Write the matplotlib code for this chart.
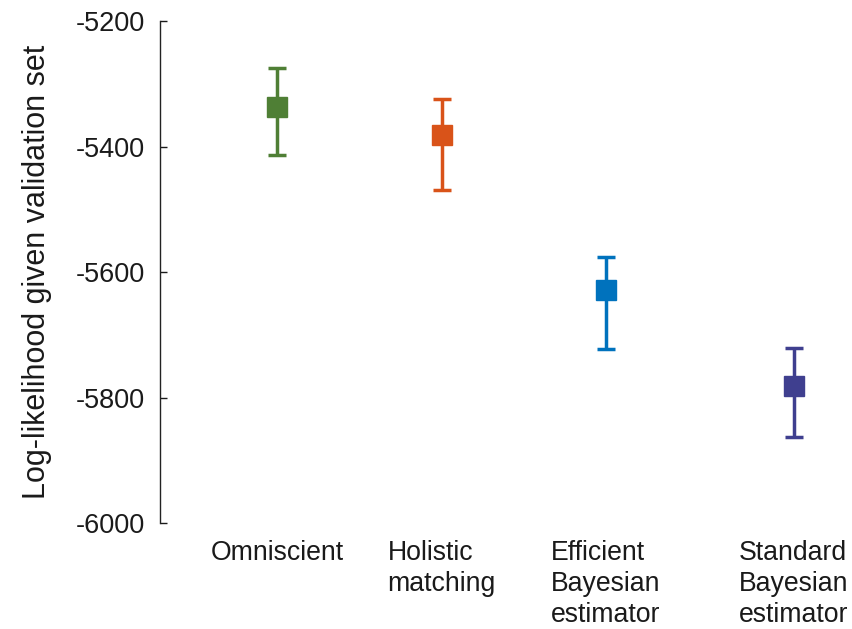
import matplotlib.pyplot as plt

# data
models = ['Omniscient', 'Holistic\nmatching', 'Efficient\nBayesian\nestimator', 'Standard\nBayesian\nestimator']
loglik = [-5337, -5382, -5629, -5782]
err_low = [-5413, -5469, -5723, -5863]
err_high = [-5275, -5324, -5576, -5721]
colors = ['#4f7f35', '#d95319', '#0072bd', '#3f3f8f']

# horizontal placement of each model
xpos = [1, 2, 3, 4.14]

plt.rcParams['font.family'] = ['Liberation Sans', 'DejaVu Sans']

fig = plt.figure(figsize=(8.53, 6.29), dpi=100)
ax = fig.add_axes([160 / 853, 1 - 523 / 629, (853 - 160) / 853, (523 - 21) / 629])

for x, m, lo, hi, c in zip(xpos, loglik, err_low, err_high, colors):
    ax.errorbar([x], [m], yerr=[[m - lo], [hi - m]], fmt='s', color=c,
                markersize=14.5, elinewidth=2.5, capsize=6.5, capthick=2.5)

ax.set_ylim(-6000, -5200)
ax.set_yticks([-6000, -5800, -5600, -5400, -5200])
ax.set_yticklabels(['-6000', '-5800', '-5600', '-5400', '-5200'])
ax.set_xlim(1 - 117 / 164.5, 1 + 693 / 164.5 - 117 / 164.5)
ax.set_xticks(xpos)
ax.set_xticklabels(models, multialignment='left', va='top', linespacing=1.27)
ax.tick_params(axis='x', length=0, pad=12, labelsize=19.2, colors='#1a1a1a')
ax.tick_params(axis='y', direction='in', length=5, width=1, pad=11,
               labelsize=19.5, colors='#1a1a1a')

ax.set_ylabel('Log-likelihood given validation set', fontsize=22, color='#1a1a1a', labelpad=17)

for s in ['top', 'right', 'bottom']:
    ax.spines[s].set_visible(False)
ax.spines['left'].set_color('#222222')
ax.spines['left'].set_linewidth(1)

fig.savefig('out.png', dpi=100)
